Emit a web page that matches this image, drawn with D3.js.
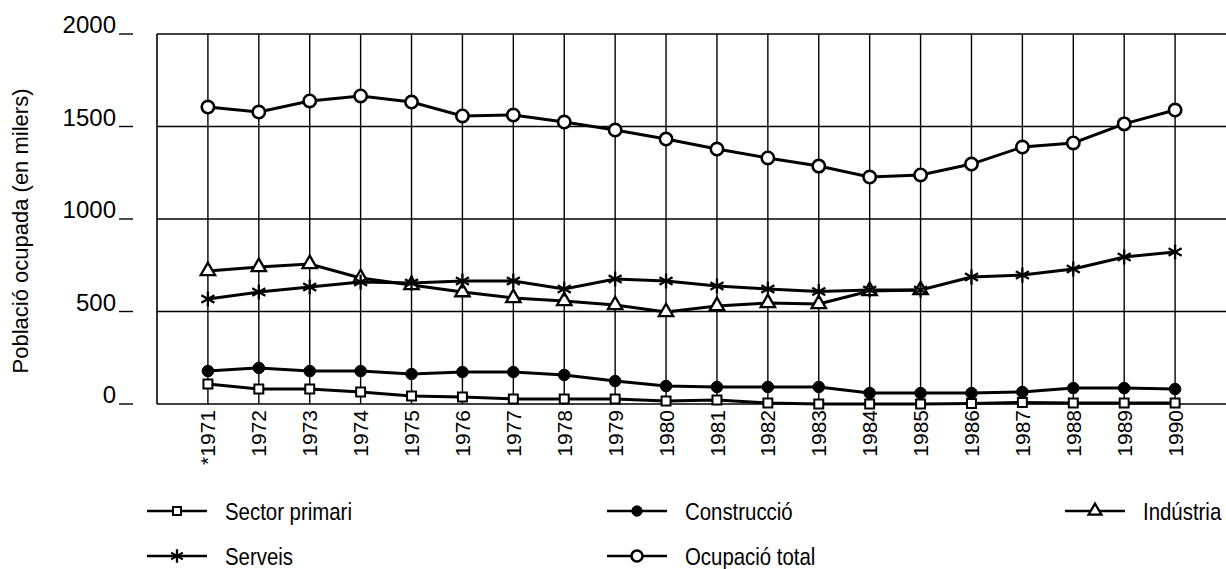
<!DOCTYPE html>
<html>
<head>
<meta charset="utf-8">
<script src="https://cdn.jsdelivr.net/npm/d3@7"></script>
<style>
    body { margin: 0; background: #fff; }
    #chart { width: 1226px; height: 569px; }
    text { font-family: "Liberation Sans", Arial, sans-serif; fill: #000; }
</style>
</head>
<body>
<div id="chart"></div>
<script>

var years = [1971,1972,1973,1974,1975,1976,1977,1978,1979,1980,1981,1982,1983,1984,1985,1986,1987,1988,1989,1990];
var yearLabels = ["*1971","1972","1973","1974","1975","1976","1977","1978","1979","1980","1981","1982","1983","1984","1985","1986","1987","1988","1989","1990"];
var yTicks = [0,500,1000,1500,2000];

var sectorPrimari = [108,81,81,65,43,38,27,27,27,16,22,5,0,0,0,3,8,5,5,5];
var construccio = [178,195,178,178,162,173,173,157,124,97,92,92,92,59,59,59,65,86,86,81];
var industria = [719,741,757,681,643,605,573,557,535,497,530,546,541,611,616,null,null,null,null,null];
var serveis = [568,605,632,659,654,665,665,622,676,665,638,622,608,616,616,686,697,730,795,822];
var ocupacioTotal = [1605,1578,1638,1665,1632,1557,1562,1524,1481,1432,1378,1330,1286,1227,1238,1297,1389,1411,1514,1589];

var seriesNames = ["Sector primari","Construcció","Indústria","Serveis","Ocupació total"];


var width = 1226;
var height = 569;

var svg = d3.select("#chart")
    .append("svg")
    .attr("width", width)
    .attr("height", height);

var plotLeft = 157, plotRight = 1226, plotTop = 34, plotBottom = 404;

var xScale = d3.scalePoint()
    .domain(years)
    .range([plotLeft, plotRight])
    .padding(1);

var yScale = d3.scaleLinear()
    .domain([0, 2000])
    .range([plotBottom, plotTop]);

// grid
svg.selectAll(".hgrid")
    .data(yTicks)
    .enter()
    .append("line")
    .attr("class","hgrid")
    .attr("x1", plotLeft)
    .attr("x2", plotRight)
    .attr("y1", function(d){ return yScale(d); })
    .attr("y2", function(d){ return yScale(d); })
    .attr("stroke", "#000")
    .attr("stroke-width", 1.6);

svg.selectAll(".vgrid")
    .data(years)
    .enter()
    .append("line")
    .attr("class","vgrid")
    .attr("x1", function(d){ return xScale(d); })
    .attr("x2", function(d){ return xScale(d); })
    .attr("y1", plotTop)
    .attr("y2", plotBottom)
    .attr("stroke", "#000")
    .attr("stroke-width", 1.4);

svg.append("line")
    .attr("x1", plotLeft).attr("x2", plotLeft)
    .attr("y1", plotTop).attr("y2", plotBottom)
    .attr("stroke", "#000")
    .attr("stroke-width", 1.6);

// y labels
svg.selectAll(".ylabel")
    .data(yTicks)
    .enter()
    .append("text")
    .attr("class","ylabel")
    .attr("x", 116)
    .attr("y", function(d){ return yScale(d) - 1; })
    .attr("text-anchor","end")
    .attr("font-size","24px")
    .text(function(d){ return d; });

svg.selectAll(".ytick")
    .data(yTicks)
    .enter()
    .append("line")
    .attr("class","ytick")
    .attr("x1", 119)
    .attr("x2", 133)
    .attr("y1", function(d){ return yScale(d); })
    .attr("y2", function(d){ return yScale(d); })
    .attr("stroke", "#000")
    .attr("stroke-width", 1.4);

svg.append("text")
    .attr("transform","translate(28,231) rotate(-90)")
    .attr("text-anchor","middle")
    .attr("font-size","22px")
    .text("Població ocupada (en milers)");

// x labels
svg.selectAll(".xlabel")
    .data(years)
    .enter()
    .append("text")
    .attr("class","xlabel")
    .attr("transform", function(d){ return "translate(" + xScale(d) + ",410) rotate(-90)"; })
    .attr("text-anchor","end")
    .attr("dy","0.36em")
    .attr("font-size","21px")
    .text(function(d,i){ return yearLabels[i]; });

// series
var series = [
    {name: seriesNames[0], values: sectorPrimari, symbol: d3.symbolSquare, size: 80, fill: "#fff", sw: 2},
    {name: seriesNames[1], values: construccio, symbol: d3.symbolCircle, size: 105, fill: "#000", sw: 1},
    {name: seriesNames[2], values: industria, symbol: d3.symbolTriangle, size: 90, fill: "#fff", sw: 2.3},
    {name: seriesNames[3], values: serveis, symbol: d3.symbolAsterisk, size: 160, fill: "none", sw: 2.3},
    {name: seriesNames[4], values: ocupacioTotal, symbol: d3.symbolCircle, size: 120, fill: "#fff", sw: 2.6}
];

var line = d3.line()
    .defined(function(d){ return d.v != null; })
    .x(function(d){ return xScale(d.year); })
    .y(function(d){ return yScale(d.v); });

series.forEach(function(s){
    var pts = years.map(function(y,i){ return {year: y, v: s.values[i]}; });
    svg.append("path")
        .datum(pts)
        .attr("d", line)
        .attr("fill","none")
        .attr("stroke","#000")
        .attr("stroke-width", 3);
});

series.forEach(function(s){
    var pts = years.map(function(y,i){ return {year: y, v: s.values[i]}; })
        .filter(function(d){ return d.v != null; });
    svg.selectAll(null)
        .data(pts)
        .enter()
        .append("path")
        .attr("transform", function(d){ return "translate(" + xScale(d.year) + "," + yScale(d.v) + ")"; })
        .attr("d", d3.symbol().type(s.symbol).size(s.size))
        .attr("fill", s.fill)
        .attr("stroke","#000")
        .attr("stroke-width", s.sw);
});

// legend
var legendPos = [
    {x: 147, y: 511},
    {x: 607, y: 511},
    {x: 1065, y: 511},
    {x: 147, y: 556},
    {x: 607, y: 556}
];

series.forEach(function(s,i){
    var p = legendPos[i];
    var g = svg.append("g")
        .attr("transform","translate(" + p.x + "," + p.y + ")");
    g.append("line")
        .attr("x1", 0).attr("x2", 60)
        .attr("stroke","#000")
        .attr("stroke-width", 2.6);
    g.append("path")
        .attr("transform","translate(30,0)")
        .attr("d", d3.symbol().type(s.symbol).size(s.size * 0.8))
        .attr("fill", s.fill)
        .attr("stroke","#000")
        .attr("stroke-width", s.sw);
    g.append("text")
        .attr("transform","translate(78,9) scale(0.85,1)")
        .attr("font-size","24px")
        .text(s.name);
});

</script>
</body>
</html>
